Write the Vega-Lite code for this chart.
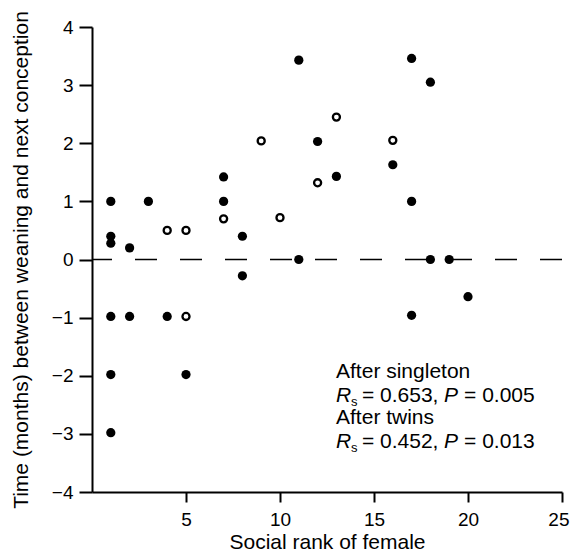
{
  "$schema": "https://vega.github.io/schema/vega-lite/v6.json",
  "autosize": "none",
  "width": 470,
  "height": 465,
  "padding": {"left": 92, "top": 27, "right": 8, "bottom": 64},
  "background": "white",
  "config": {
    "view": {"stroke": null},
    "font": "Liberation Sans",
    "axis": {"titleColor": "#000000", "labelColor": "#000000"}
  },
  "datasets": {
    "points": [
      {"rank": 1, "months": 1.0, "group": "singleton"},
      {"rank": 1, "months": 0.4, "group": "singleton"},
      {"rank": 1, "months": 0.28, "group": "singleton"},
      {"rank": 1, "months": -0.98, "group": "singleton"},
      {"rank": 1, "months": -1.98, "group": "singleton"},
      {"rank": 1, "months": -2.98, "group": "singleton"},
      {"rank": 2, "months": 0.2, "group": "singleton"},
      {"rank": 2, "months": -0.98, "group": "singleton"},
      {"rank": 3, "months": 1.0, "group": "singleton"},
      {"rank": 4, "months": -0.98, "group": "singleton"},
      {"rank": 5, "months": -1.98, "group": "singleton"},
      {"rank": 7, "months": 1.42, "group": "singleton"},
      {"rank": 7, "months": 1.0, "group": "singleton"},
      {"rank": 8, "months": 0.4, "group": "singleton"},
      {"rank": 8, "months": -0.28, "group": "singleton"},
      {"rank": 11, "months": 3.43, "group": "singleton"},
      {"rank": 11, "months": 0.0, "group": "singleton"},
      {"rank": 12, "months": 2.03, "group": "singleton"},
      {"rank": 13, "months": 1.43, "group": "singleton"},
      {"rank": 16, "months": 1.63, "group": "singleton"},
      {"rank": 17, "months": 3.46, "group": "singleton"},
      {"rank": 17, "months": 1.0, "group": "singleton"},
      {"rank": 17, "months": -0.96, "group": "singleton"},
      {"rank": 18, "months": 3.05, "group": "singleton"},
      {"rank": 18, "months": 0.0, "group": "singleton"},
      {"rank": 19, "months": 0.0, "group": "singleton"},
      {"rank": 20, "months": -0.64, "group": "singleton"},
      {"rank": 4, "months": 0.5, "group": "twins"},
      {"rank": 5, "months": 0.5, "group": "twins"},
      {"rank": 5, "months": -0.98, "group": "twins"},
      {"rank": 7, "months": 0.7, "group": "twins"},
      {"rank": 9, "months": 2.04, "group": "twins"},
      {"rank": 10, "months": 0.72, "group": "twins"},
      {"rank": 12, "months": 1.32, "group": "twins"},
      {"rank": 13, "months": 2.45, "group": "twins"},
      {"rank": 16, "months": 2.05, "group": "twins"}
    ],
    "notes": [
      {"rank": 12.98, "months": -1.94, "t": "After singleton", "style": "normal"},
      {"rank": 14.36, "months": -2.34, "t": "= 0.653,", "style": "normal"},
      {"rank": 19.79, "months": -2.34, "t": "= 0.005", "style": "normal"},
      {"rank": 12.98, "months": -2.73, "t": "After twins", "style": "normal"},
      {"rank": 14.36, "months": -3.14, "t": "= 0.452,", "style": "normal"},
      {"rank": 19.79, "months": -3.14, "t": "= 0.013", "style": "normal"},
      {"rank": 12.98, "months": -2.34, "t": "R", "style": "italic"},
      {"rank": 18.72, "months": -2.34, "t": "P", "style": "italic"},
      {"rank": 12.98, "months": -3.14, "t": "R", "style": "italic"},
      {"rank": 18.72, "months": -3.14, "t": "P", "style": "italic"},
      {"rank": 13.78, "months": -2.34, "t": "s", "style": "sub"},
      {"rank": 13.78, "months": -3.14, "t": "s", "style": "sub"}
    ],
    "zero": [{"months": 0}]
  },
  "layer": [
    {
      "data": {"name": "points"},
      "transform": [{"filter": "datum.group === 'singleton'"}],
      "mark": {"type": "point", "shape": "circle", "filled": true, "color": "black", "size": 85, "opacity": 1},
      "encoding": {
        "x": {"field": "rank", "type": "quantitative", "scale": {"domain": [0, 25], "nice": false, "zero": false},
          "axis": {"title": "Social rank of female", "values": [5, 10, 15, 20, 25], "grid": false, "domainColor": "black", "domainWidth": 2, "tickColor": "black", "tickWidth": 2, "tickSize": 10, "labelColor": "black", "labelFont": "Liberation Sans", "labelFontSize": 19, "labelPadding": 8, "labelFlush": true, "labelFlushOffset": 7, "labelOverlap": false, "titleColor": "black", "titleFont": "Liberation Sans", "titleFontSize": 21, "titleFontWeight": "normal", "titlePadding": 2}},
        "y": {"field": "months", "type": "quantitative", "scale": {"domain": [-4, 4], "nice": false, "zero": false},
          "axis": {"title": "Time (months) between weaning and next conception", "values": [-4, -3, -2, -1, 0, 1, 2, 3, 4], "format": "d", "grid": false, "domainColor": "black", "domainWidth": 2, "tickColor": "black", "tickWidth": 2, "tickSize": 13, "labelColor": "black", "labelFont": "Liberation Sans", "labelFontSize": 19, "labelPadding": 6, "labelFlush": false, "labelOverlap": false, "titleColor": "black", "titleFont": "Liberation Sans", "titleFontSize": 21, "titleFontWeight": "normal", "titlePadding": 20}}
      }
    },
    {
      "data": {"name": "zero"},
      "mark": {"type": "rule", "color": "black", "strokeWidth": 1.3, "strokeDash": [22, 23]},
      "encoding": {
        "y": {"field": "months", "type": "quantitative", "scale": {"domain": [-4, 4], "nice": false, "zero": false}, "title": "Time (months) between weaning and next conception"}
      }
    },
    {
      "data": {"name": "points"},
      "transform": [{"filter": "datum.group === 'twins'"}],
      "mark": {"type": "point", "shape": "circle", "filled": false, "fill": "white", "stroke": "black", "strokeWidth": 2.3, "size": 50, "opacity": 1},
      "encoding": {
        "x": {"field": "rank", "type": "quantitative", "scale": {"domain": [0, 25], "nice": false, "zero": false}, "title": "Social rank of female"},
        "y": {"field": "months", "type": "quantitative", "scale": {"domain": [-4, 4], "nice": false, "zero": false}, "title": "Time (months) between weaning and next conception"}
      }
    },
    {
      "data": {"name": "notes"},
      "transform": [{"filter": "datum.style === 'normal'"}],
      "mark": {"type": "text", "align": "left", "baseline": "middle", "fontSize": 21, "font": "Liberation Sans", "color": "black"},
      "encoding": {
        "x": {"field": "rank", "type": "quantitative", "scale": {"domain": [0, 25], "nice": false, "zero": false}, "title": "Social rank of female"},
        "y": {"field": "months", "type": "quantitative", "scale": {"domain": [-4, 4], "nice": false, "zero": false}, "title": "Time (months) between weaning and next conception"},
        "text": {"field": "t"}
      }
    },
    {
      "data": {"name": "notes"},
      "transform": [{"filter": "datum.style === 'italic'"}],
      "mark": {"type": "text", "align": "left", "baseline": "middle", "fontSize": 21, "fontStyle": "italic", "font": "Liberation Sans", "color": "black"},
      "encoding": {
        "x": {"field": "rank", "type": "quantitative", "scale": {"domain": [0, 25], "nice": false, "zero": false}, "title": "Social rank of female"},
        "y": {"field": "months", "type": "quantitative", "scale": {"domain": [-4, 4], "nice": false, "zero": false}, "title": "Time (months) between weaning and next conception"},
        "text": {"field": "t"}
      }
    },
    {
      "data": {"name": "notes"},
      "transform": [{"filter": "datum.style === 'sub'"}],
      "mark": {"type": "text", "align": "left", "baseline": "middle", "fontSize": 13, "dy": 6, "font": "Liberation Sans", "color": "black"},
      "encoding": {
        "x": {"field": "rank", "type": "quantitative", "scale": {"domain": [0, 25], "nice": false, "zero": false}, "title": "Social rank of female"},
        "y": {"field": "months", "type": "quantitative", "scale": {"domain": [-4, 4], "nice": false, "zero": false}, "title": "Time (months) between weaning and next conception"},
        "text": {"field": "t"}
      }
    }
  ]
}
